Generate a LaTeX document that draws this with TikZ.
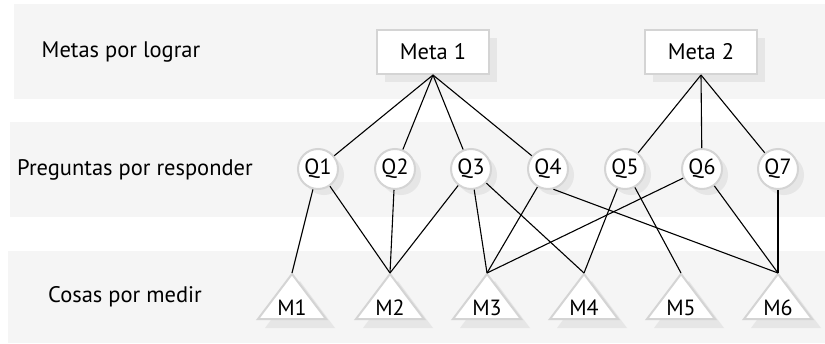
\documentclass[tikz,border=0pt]{standalone}
\usepackage{fontspec}
\setmainfont{PT Sans}
\usetikzlibrary{positioning,shadows}
\definecolor{bandgray}{HTML}{F5F5F5}
\definecolor{shadegray}{HTML}{E6E6E6}
\definecolor{edgegray}{HTML}{D4D4D4}

\begin{document}
\begin{tikzpicture}[
        x=1pt, y=-1pt,
        band/.style={fill=bandgray},
        rowlabel/.style={
            inner sep=0pt,
            font=\fontsize{22.5}{26}\selectfont
        },
        goalbox/.style={
            draw=edgegray,
            line width=2pt,
            fill=white,
            minimum width=112pt,
            minimum height=44pt,
            font=\fontsize{22.5}{26}\selectfont,
            drop shadow={shadow xshift=8pt, shadow yshift=-8pt, fill=shadegray, opacity=1}
        },
        question/.style={
            circle,
            draw=edgegray,
            line width=2pt,
            fill=white,
            minimum size=40pt,
            inner sep=0pt,
            font=\fontsize{22}{24}\selectfont,
            drop shadow={shadow xshift=6pt, shadow yshift=-6pt, fill=shadegray, opacity=1}
        },
        measurelabel/.style={inner sep=0pt, font=\fontsize{22}{24}\selectfont},
        measure/.pic={
            \fill[shadegray] (8,8) -- (43,55) -- (-27,55) -- cycle;
            \draw[draw=edgegray, line width=2pt, fill=white] (0,1) -- (34,46) -- (-34,46) -- cycle;
            \node[measurelabel] (-label) at (0,35) {#1};
            \coordinate (-top) at (0,0);
        },
        link/.style={line width=1.1pt}
    ]
        \useasboundingbox (0,0) rectangle (825,343);

        % bands
        \fill[band] (14,4) rectangle (825,99);
        \fill[band] (10,122) rectangle (825,217);
        \fill[band] (8,251) rectangle (825,343);

        \node[rowlabel] (goals) at (121,52) {Metas por lograr};
        \node[rowlabel] (questions) at (135,170) {Preguntas por responder};
        \node[rowlabel] (things) at (125,297) {Cosas por medir};

        % goals
        \node[goalbox] (meta1) at (433,52) {Meta 1};
        \node[goalbox] (meta2) at (701,52) {Meta 2};

        % questions
        \node[question] (Q1) at (318,169) {Q1};
        \node[question] (Q2) at (395,169) {Q2};
        \node[question] (Q3) at (471,169) {Q3};
        \node[question] (Q4) at (548,169) {Q4};
        \node[question] (Q5) at (625,169) {Q5};
        \node[question] (Q6) at (702,169) {Q6};
        \node[question] (Q7) at (778,169) {Q7};

        % measures
        \pic (M1) at (292,273) {measure=M1};
        \pic (M2) at (390,273) {measure=M2};
        \pic (M3) at (487,273) {measure=M3};
        \pic (M4) at (584,273) {measure=M4};
        \pic (M5) at (681,273) {measure=M5};
        \pic (M6) at (778,273) {measure=M6};

        \draw[link] (meta1.south) -- (Q1);
        \draw[link] (meta1.south) -- (Q2);
        \draw[link] (meta1.south) -- (Q3);
        \draw[link] (meta1.south) -- (Q4);
        \draw[link] (meta2.south) -- (Q5);
        \draw[link] (meta2.south) -- (Q6);
        \draw[link] (meta2.south) -- (Q7);

        \draw[link] (Q1) -- (M1-top);
        \draw[link] (Q1) -- (M2-top);
        \draw[link] (Q2) -- (M2-top);
        \draw[link] (Q3) -- (M2-top);
        \draw[link] (Q3) -- (M3-top);
        \draw[link] (Q3) -- (M4-top);
        \draw[link] (Q4) -- (M3-top);
        \draw[link] (Q4.-75) -- (M6-top);
        \draw[link] (Q5) -- (M4-top);
        \draw[link] (Q5) -- (M5-top);
        \draw[link] (Q6) -- (M3-top);
        \draw[link] (Q6) -- (M6-top);
        \draw[link] (Q7) -- (M6-top);
    \end{tikzpicture}
\end{document}
